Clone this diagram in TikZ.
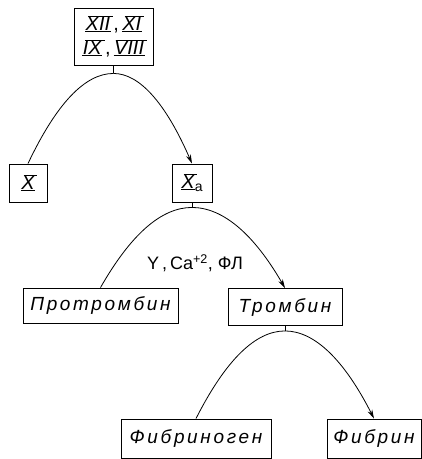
\documentclass[tikz,border=0pt]{standalone}
\usepackage{fontspec}
\setmainfont{Liberation Sans}
\usetikzlibrary{arrows.meta,calc}
\newcommand\rn[1]{\leavevmode\setbox0=\hbox{\itshape #1}\rlap{\kern-0.5pt\rule[-1.2pt]{\dimexpr\wd0+1pt\relax}{0.8pt}}\rlap{\kern2.2pt\rule[\dimexpr\ht0+0.4pt\relax]{\dimexpr\wd0+0.5pt\relax}{0.8pt}}\box0}
\newcommand\arch[3][]{\draw[conn,#1] let \p1=(#2), \p2=(#3) in (\p1) .. controls (\x1+\x2/3-\x1/3,\y1) and (\x2+\x1/3-\x2/3,\y2+2*\y1/3-2*\y2/3) .. (\p2);}
\tikzset{
  box/.style={draw, line width=0.9pt, inner sep=0pt, align=center},
  conn/.style={line width=0.8pt},
  arr/.style={-{Stealth[length=9pt,width=5pt]}},
  lbl/.style={font=\fontsize{19}{20}\selectfont\itshape\addfontfeature{LetterSpace=14}},
  rom/.style={font=\fontsize{20}{24}\selectfont},
}
\begin{document}
\begin{tikzpicture}[x=1pt,y=-1pt]
\useasboundingbox (0,0) rectangle (422,459);
\node[box,rom,minimum width=79pt,minimum height=57pt] (top) at (113.5,36.5) {\rn{XII}\,,\,\rn{XI}\\\rn{IX}\,,\,\rn{VIII}};
\node[box,rom,minimum width=38pt,minimum height=38pt] (X) at (28,183) {\rn{X}};
\node[box,rom,minimum width=40pt,minimum height=38pt] (Xa) at (192,183) {\rn{X}\raisebox{-3pt}{\fontsize{14}{14}\selectfont a}};
\node[box,lbl,minimum width=155pt,minimum height=35pt] (P) at (100.5,305.5) {Протромбин};
\node[box,lbl,minimum width=114pt,minimum height=37pt] (T) at (285,307) {Тромбин};
\node[box,lbl,minimum width=150pt,minimum height=39pt] (F) at (196,438.5) {Фибриноген};
\node[box,lbl,minimum width=94pt,minimum height=39pt] (Fn) at (374,438.5) {Фибрин};
\node[font=\fontsize{18}{18}\selectfont] (lab) at (195,263) {Y\,,\,Ca\textsuperscript{+2}, ФЛ};
\draw[conn] (top.south) -- ++(0,8) coordinate (s1);
\draw[conn] (Xa.south) -- ++(0,5) coordinate (s2);
\draw[conn] (T.south) -- ++(0,5) coordinate (s3);
\arch{s1}{X.north}
\arch[arr]{s1}{Xa.north}
\arch{s2}{P.north}
\arch[arr]{s2}{T.north}
\arch{s3}{F.north}
\arch[arr]{s3}{Fn.north}
\end{tikzpicture}
\end{document}
